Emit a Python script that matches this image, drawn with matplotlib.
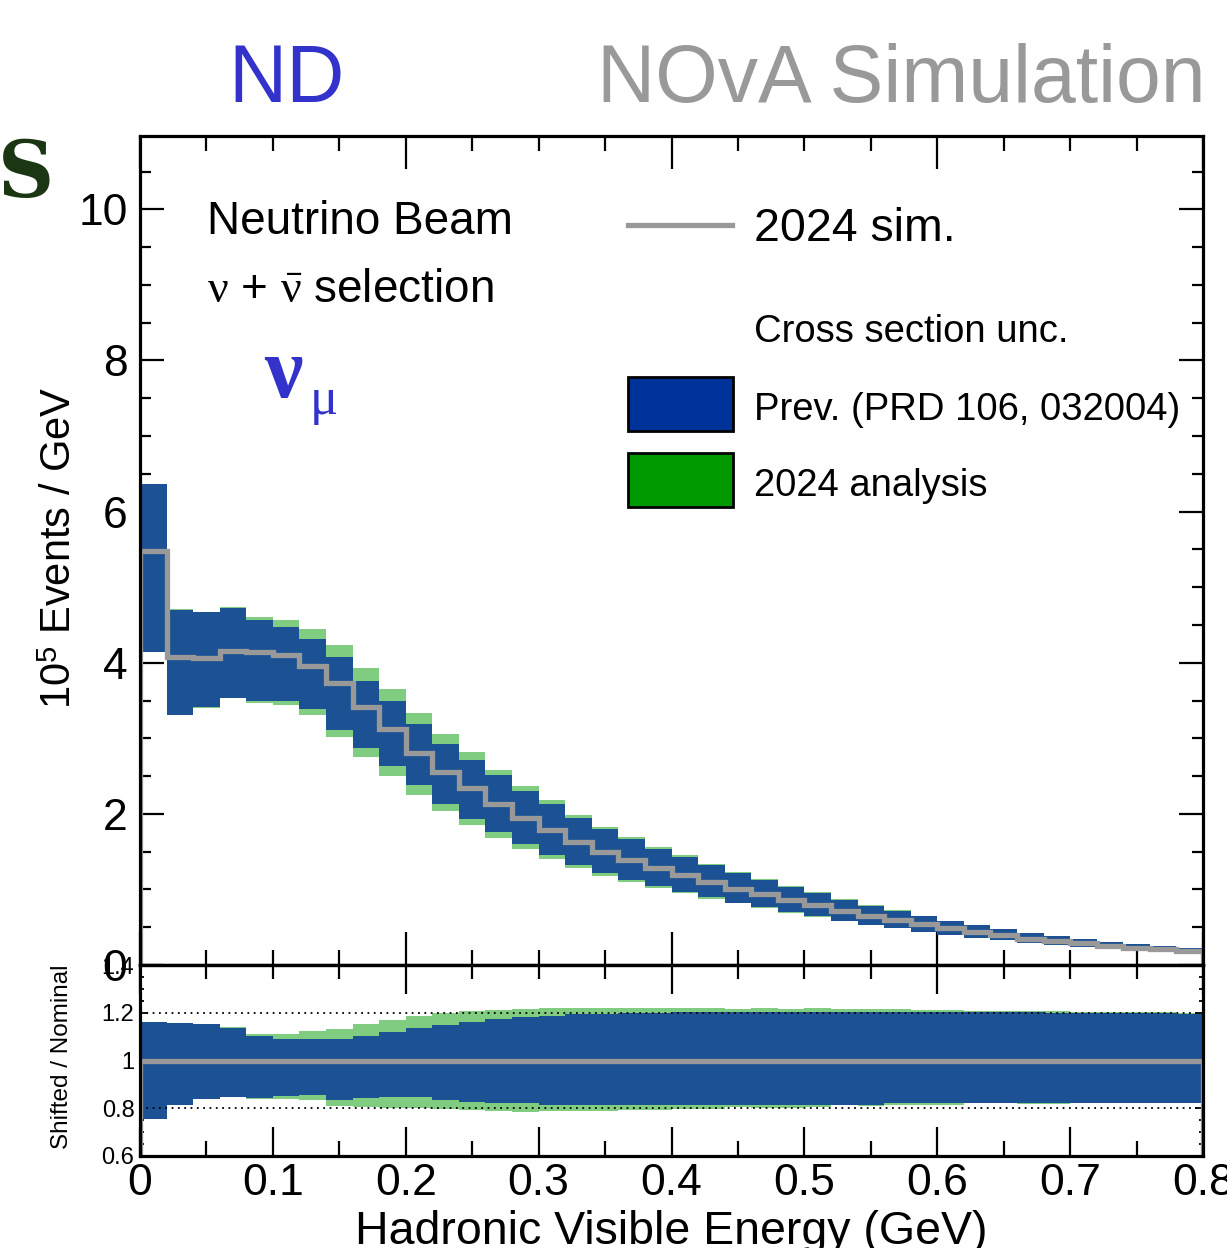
import numpy as np
import matplotlib
matplotlib.use("Agg")
import matplotlib.pyplot as plt
from matplotlib.ticker import MultipleLocator, FixedLocator, FixedFormatter
from matplotlib.patches import Rectangle
from matplotlib.lines import Line2D

plt.rcParams['font.family'] = ['Liberation Sans', 'DejaVu Sans']
plt.rcParams['mathtext.fontset'] = 'custom'
plt.rcParams['mathtext.rm'] = 'Liberation Serif'
plt.rcParams['mathtext.it'] = 'Liberation Serif:italic'
plt.rcParams['mathtext.bf'] = 'Liberation Serif:bold'

# binning: 40 bins of 0.02 GeV
bin_edges = np.round(np.arange(0, 0.8001, 0.02), 3)

# 2024 sim. nominal (10^5 events / GeV)
nominal = [5.48, 4.07, 4.06, 4.16, 4.14, 4.10, 3.96, 3.73, 3.41, 3.12,
           2.81, 2.55, 2.34, 2.135, 1.95, 1.79, 1.63, 1.50, 1.39, 1.28,
           1.19, 1.10, 1.01, 0.935, 0.86, 0.79, 0.72, 0.65, 0.595, 0.54,
           0.485, 0.44, 0.40, 0.35, 0.32, 0.29, 0.255, 0.23, 0.21, 0.19]

# shifted / nominal, previous analysis (PRD 106, 032004)
prev_hi = [1.161, 1.155, 1.151, 1.137, 1.102, 1.091, 1.091, 1.091, 1.101, 1.119,
           1.136, 1.148, 1.161, 1.175, 1.183, 1.187, 1.194, 1.196, 1.200, 1.200,
           1.202, 1.202, 1.203, 1.203, 1.203, 1.203, 1.203, 1.203, 1.203, 1.203,
           1.202, 1.202, 1.202, 1.202, 1.201, 1.200, 1.200, 1.199, 1.198, 1.196]
prev_lo = [0.757, 0.813, 0.840, 0.849, 0.845, 0.853, 0.857, 0.834, 0.842, 0.846,
           0.846, 0.836, 0.828, 0.824, 0.820, 0.815, 0.814, 0.813, 0.813, 0.813,
           0.813, 0.813, 0.815, 0.815, 0.815, 0.815, 0.814, 0.814, 0.820, 0.820,
           0.822, 0.822, 0.822, 0.822, 0.822, 0.822, 0.822, 0.824, 0.824, 0.824]

# shifted / nominal, 2024 analysis
new_hi = [1.150, 1.157, 1.148, 1.140, 1.113, 1.113, 1.123, 1.134, 1.151, 1.169,
          1.186, 1.200, 1.206, 1.210, 1.214, 1.218, 1.221, 1.221, 1.221, 1.221,
          1.220, 1.218, 1.214, 1.221, 1.217, 1.221, 1.217, 1.217, 1.217, 1.211,
          1.211, 1.207, 1.207, 1.207, 1.207, 1.204, 1.204, 1.203, 1.202, 1.200]
new_lo = [0.770, 0.820, 0.837, 0.850, 0.838, 0.838, 0.834, 0.808, 0.806, 0.803,
          0.800, 0.797, 0.793, 0.789, 0.785, 0.787, 0.790, 0.787, 0.794, 0.794,
          0.797, 0.797, 0.806, 0.800, 0.800, 0.806, 0.814, 0.808, 0.814, 0.815,
          0.815, 0.820, 0.820, 0.817, 0.817, 0.820, 0.820, 0.822, 0.827, 0.822]

xtick_vals = [0, 0.1, 0.2, 0.3, 0.4, 0.5, 0.6, 0.7, 0.8]
xtick_labels = ['0', '0.1', '0.2', '0.3', '0.4', '0.5', '0.6', '0.7', '0.8']
ytick_vals = [0, 2, 4, 6, 8, 10]
ytick_labels = ['0', '2', '4', '6', '8', '10']
rtick_vals = [0.6, 0.8, 1.0, 1.2, 1.4]
rtick_labels = ['0.6', '0.8', '1', '1.2', '1.4']

BLUE = '#1c5294'
GREEN = '#80cc80'
GREY = '#999999'
NAVY_TXT = '#3333cc'
W, H = 1227, 1248


def px(x, y):
    return x / W, 1 - y / H


nom = np.array(nominal)
lefts = bin_edges[:-1]
width = 0.02

fig = plt.figure(figsize=(W / 100, H / 100), dpi=100)
ax = fig.add_axes([140 / W, 1 - 965 / H, 1063 / W, 829 / H])
ax2 = fig.add_axes([140 / W, 1 - 1156 / H, 1063 / W, 191 / H])

# main panel bands
ax.bar(lefts, nom * (np.array(new_hi) - np.array(new_lo)), width, bottom=nom * np.array(new_lo),
       align='edge', color=GREEN, linewidth=0, zorder=1)
ax.bar(lefts, nom * (np.array(prev_hi) - np.array(prev_lo)), width, bottom=nom * np.array(prev_lo),
       align='edge', color=BLUE, linewidth=0, zorder=2)
ax.stairs(nom, bin_edges, baseline=0, color=GREY, linewidth=3.8, zorder=3)

# ratio panel bands
ax2.bar(lefts, np.array(new_hi) - np.array(new_lo), width, bottom=new_lo,
        align='edge', color=GREEN, linewidth=0, zorder=1)
ax2.bar(lefts, np.array(prev_hi) - np.array(prev_lo), width, bottom=prev_lo,
        align='edge', color=BLUE, linewidth=0, zorder=2)
for yv in (0.8, 1.2):
    ax2.axhline(yv, color='black', linestyle=(0, (1, 2.5)), linewidth=1.3, zorder=3)
ax2.stairs(np.ones(len(nominal)), bin_edges, baseline=0.6, color=GREY, linewidth=3.8, zorder=4)

# axes styling
for a in (ax, ax2):
    a.set_xlim(0, 0.8)
    for s in a.spines.values():
        s.set_linewidth(2.3)
        s.set_zorder(10)

ax.set_ylim(0, 10.97)
ax.xaxis.set_major_locator(MultipleLocator(0.2))
ax.xaxis.set_minor_locator(MultipleLocator(0.05))
ax.yaxis.set_major_locator(FixedLocator(ytick_vals))
ax.yaxis.set_major_formatter(FixedFormatter(ytick_labels))
ax.yaxis.set_minor_locator(MultipleLocator(0.5))
ax.tick_params(axis='x', which='both', direction='in', top=True, bottom=True, labelbottom=False, width=1.6)
ax.tick_params(axis='x', which='major', length=24)
ax.tick_params(axis='x', which='minor', length=11)
ax.tick_params(axis='y', which='both', direction='in', left=True, right=True, width=1.6, labelsize=32, pad=9)
ax.tick_params(axis='y', which='major', length=17)
ax.tick_params(axis='y', which='minor', length=8)

ax2.set_ylim(0.6, 1.4)
ax2.xaxis.set_major_locator(FixedLocator(xtick_vals))
ax2.xaxis.set_major_formatter(FixedFormatter(xtick_labels))
ax2.xaxis.set_minor_locator(MultipleLocator(0.05))
ax2.yaxis.set_major_locator(FixedLocator(rtick_vals))
ax2.yaxis.set_major_formatter(FixedFormatter(rtick_labels))
ax2.yaxis.set_minor_locator(MultipleLocator(0.05))
ax2.tick_params(axis='x', which='both', direction='in', top=False, bottom=True, width=1.6, labelsize=32, pad=5)
ax2.tick_params(axis='x', which='major', length=21)
ax2.tick_params(axis='x', which='minor', length=11)
ax2.tick_params(axis='y', which='both', direction='in', left=True, right=True, width=1.3, labelsize=17, pad=4)
ax2.tick_params(axis='y', which='major', length=6)
ax2.tick_params(axis='y', which='minor', length=3)

top2 = ax2.secondary_xaxis('top')
top2.xaxis.set_major_locator(MultipleLocator(0.2))
top2.xaxis.set_minor_locator(MultipleLocator(0.05))
top2.tick_params(axis='x', which='both', direction='in', labeltop=False, width=1.6)
top2.tick_params(axis='x', which='major', length=21)
top2.tick_params(axis='x', which='minor', length=10)
top2.spines['top'].set_linewidth(2.3)

# axis titles
fig.text(*px(60, 548), r'10$^{\mathregular{5}}$ Events / GeV', rotation=90,
         ha='center', va='center', fontsize=30)
fig.text(*px(62, 1057), 'Shifted / Nominal', rotation=90, ha='center', va='center', fontsize=17.5)
fig.text(*px(671, 1244), 'Hadronic Visible Energy (GeV)', ha='center', va='baseline', fontsize=33.5)

# header texts
fig.text(*px(228, 102), 'ND', color=NAVY_TXT, fontsize=58, ha='left', va='baseline')
fig.text(*px(597, 102), 'NOvA Simulation', color=GREY, fontsize=58, ha='left', va='baseline')
fig.text(*px(-2, 197), 'S', color='#1a3612', fontsize=56, fontweight='bold',
         family='DejaVu Serif', ha='left', va='baseline')

fig.text(*px(207, 234), 'Neutrino Beam', fontsize=33, ha='left', va='baseline')
fig.text(*px(207, 302), r'$\mathrm{\nu}$ + $\bar{\mathrm{\nu}}$ selection', fontsize=33,
         ha='left', va='baseline')
fig.text(*px(264, 397), r'$\mathbf{\nu}$', color=NAVY_TXT, fontsize=62, ha='left', va='baseline')
fig.text(*px(309, 414), r'$\mathrm{\mu}$', color=NAVY_TXT, fontsize=38, ha='left', va='baseline')

# legend
fig.add_artist(Line2D([628 / W, 732 / W], [1 - 225 / H, 1 - 225 / H], color=GREY, linewidth=3.8))
fig.text(*px(754, 241), '2024 sim.', fontsize=33.5, ha='left', va='baseline')
fig.text(*px(754, 342), 'Cross section unc.', fontsize=27.5, ha='left', va='baseline')
fig.add_artist(Rectangle(px(628, 431), 105 / W, 54 / H, facecolor='#003399',
                         edgecolor='black', linewidth=2))
fig.text(*px(754, 420), 'Prev. (PRD 106, 032004)', fontsize=27.5, ha='left', va='baseline')
fig.add_artist(Rectangle(px(628, 507), 105 / W, 54 / H, facecolor='#009900',
                         edgecolor='black', linewidth=2))
fig.text(*px(754, 496), '2024 analysis', fontsize=27.5, ha='left', va='baseline')

fig.savefig('out.png', dpi=100)
